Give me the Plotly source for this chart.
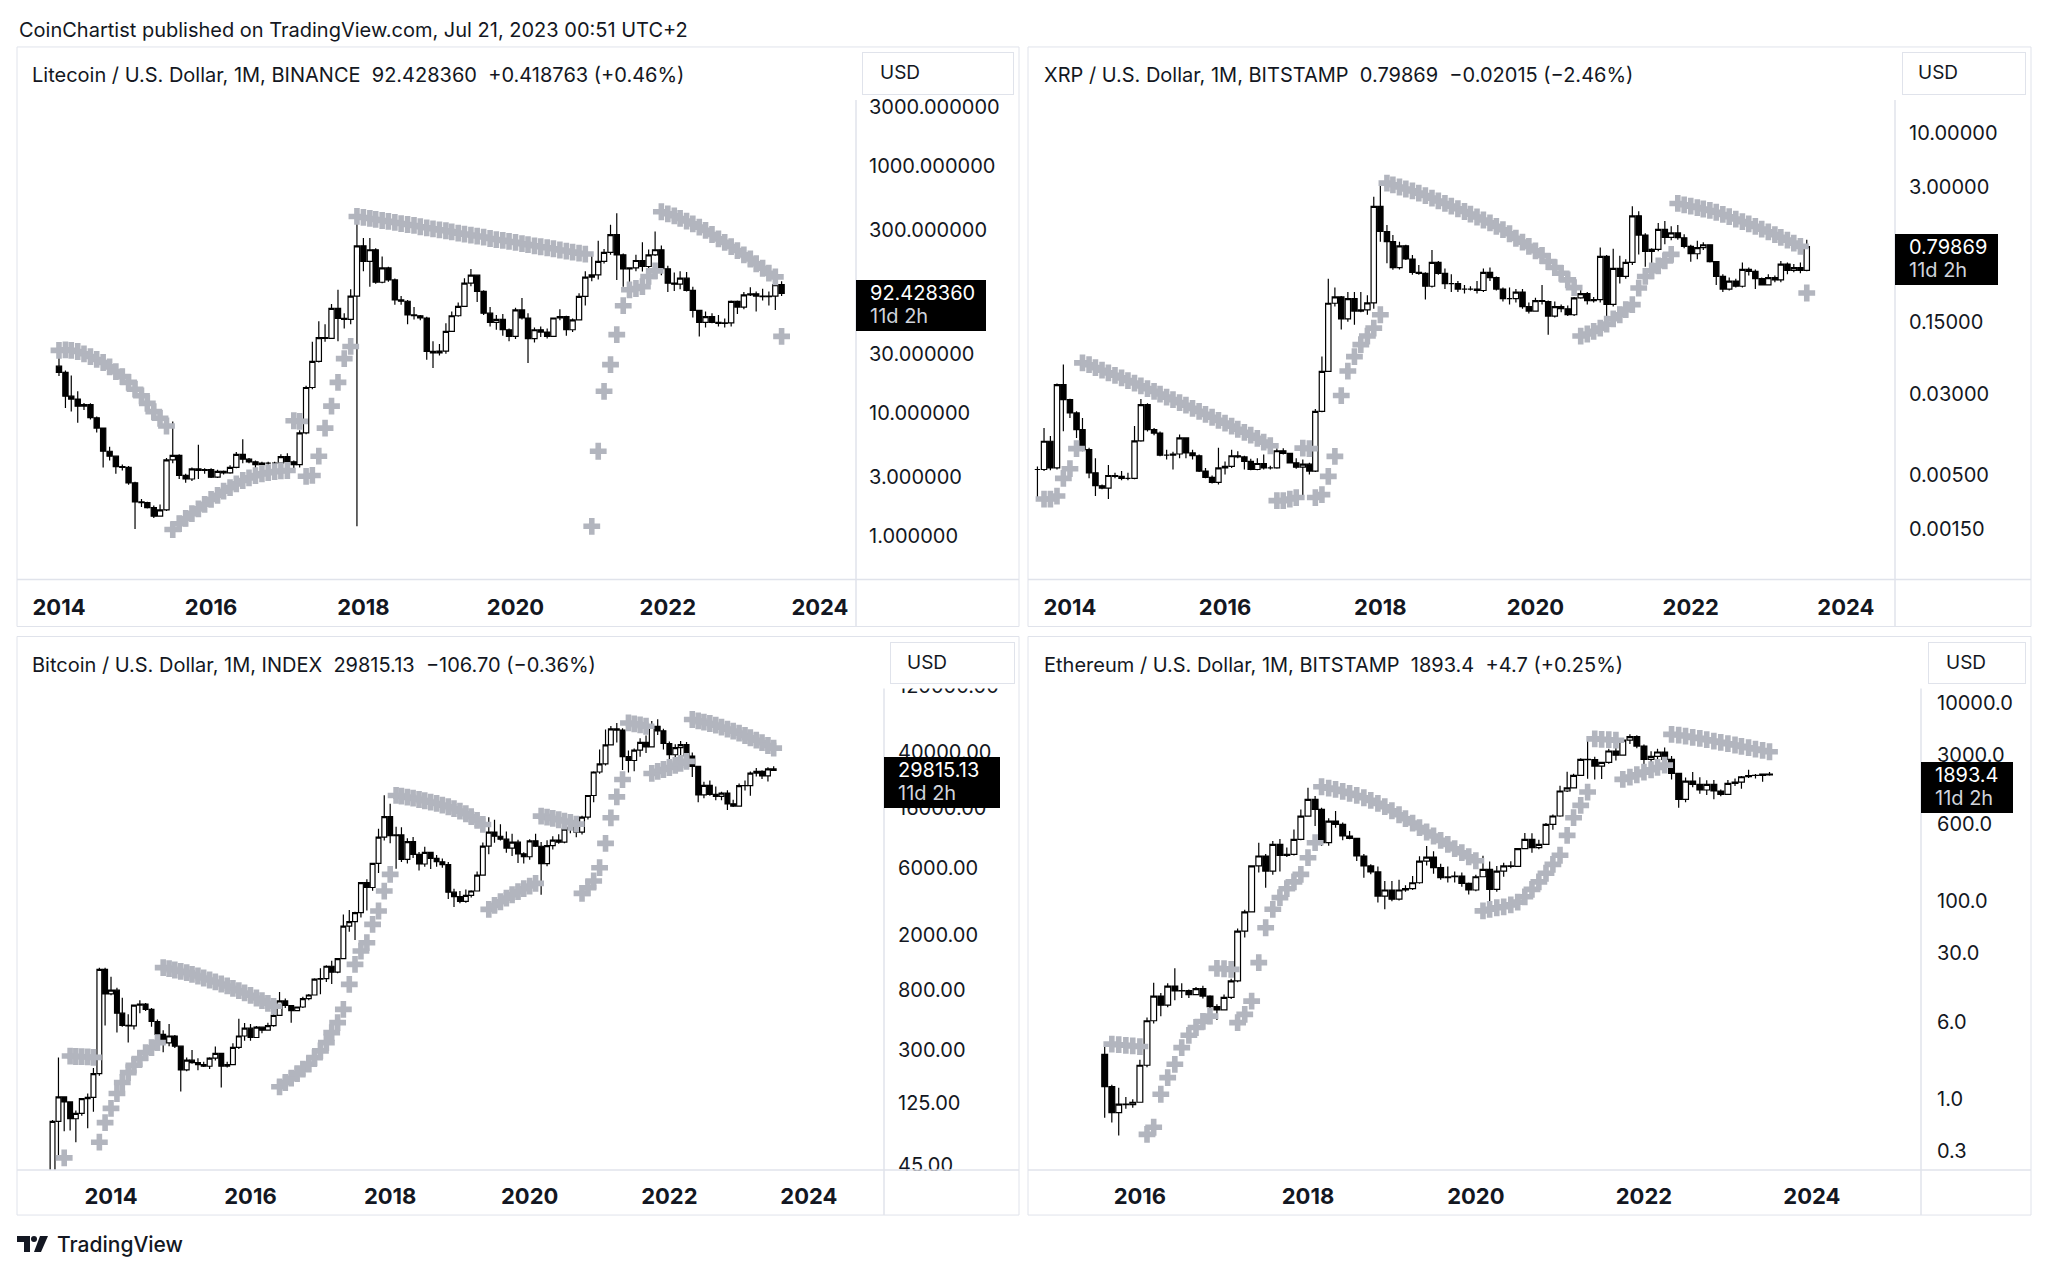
import math
import datetime as dt
import plotly.graph_objects as go

W, H = 2048, 1276
HY = 1270  # vertical scale used to place items (compensates the page photographer)
FONT = "Inter, Roboto, sans-serif"
TXT = "#131722"
GRID = "#e0e3eb"
SAR_COLOR = "#b2b5be"

# ---------------- DATA ----------------
# Litecoin / USD monthly, Jan 2014 .. Jul 2023
ltc_start = (2014, 1)
ltc_open0 = 23.8
ltc_close = [21.2, 13.6, 12.9, 11.3, 11.6, 9.1, 7.5, 4.87, 4.44, 3.65, 3.6, 2.7,
             1.89, 1.87, 1.70, 1.45, 1.63, 4.15, 4.5, 3.1, 2.9, 3.5, 3.4, 3.45,
             3.0, 3.35, 3.25, 3.6, 4.6, 4.2, 4.0, 3.8, 3.9, 3.9, 3.9, 4.4,
             4.0, 3.8, 6.85, 16.0, 26.0, 40.5, 40.0, 70, 58, 57, 88, 225,
             168, 209, 114, 149, 119, 82, 80, 62, 61, 58.5, 31.4, 30.5,
             31.5, 45.6, 61, 72.6, 112, 130, 96, 64, 54, 57, 47, 41.5,
             68, 58.5, 39.8, 47, 45, 41.5, 58.5, 60, 47, 56.6, 87.5, 125.6,
             131, 168, 199, 277, 190, 146, 149, 171, 153, 190, 209, 146.6,
             112, 110, 123, 98, 67.5, 54, 60, 54, 53, 53.5, 79.7, 71.8,
             90, 92, 88, 87, 88, 109, 92.428360]
ltc_high = [32, 22, 20, 14.9, 12.0, 11.9, 9.3, 7.6, 5.3, 4.5, 3.8, 3.7,
            2.75, 2.0, 1.9, 1.77, 1.8, 4.3, 8.5, 4.6, 3.2, 3.6, 5.5, 3.55,
            3.55, 3.45, 3.4, 3.75, 4.8, 6.1, 4.3, 4.1, 4.0, 4.0, 4.0, 4.6,
            4.7, 4.1, 7.2, 16.5, 37.5, 55, 52, 76, 99, 64, 100, 377,
            260, 260, 215, 184, 152, 122, 88, 82, 72, 62, 60, 38,
            36, 53, 66, 78, 123, 146, 132, 98, 72, 62, 63, 48,
            71, 85, 64, 49, 50, 48, 59, 69, 61, 58, 93, 140,
            190, 247, 212, 333, 414, 195, 150, 190, 240, 210, 294, 226,
            155, 137, 140, 138, 105, 68, 66, 64, 62, 58, 81, 81,
            95, 104, 96, 101, 96, 112, 116]
ltc_low = [19.8, 10.9, 10.2, 8.3, 10.5, 8.8, 6.9, 3.6, 4.1, 3.2, 3.4, 2.6,
           1.14, 1.72, 1.67, 1.40, 1.45, 1.6, 3.9, 2.9, 2.7, 2.8, 2.9, 3.2,
           2.95, 2.95, 3.15, 3.2, 3.55, 3.9, 3.9, 3.3, 3.75, 3.75, 3.75, 3.85,
           3.85, 3.25, 3.6, 6.7, 15.5, 25.5, 37.5, 40, 38, 48, 52, 1.2,
           140, 105, 111, 112, 115, 75, 75, 52, 57, 56, 26.8, 23,
           29, 30, 45, 60, 72, 106, 79, 62, 50, 47, 42, 38,
           39.5, 57, 25.3, 37, 41, 40, 41, 56, 42, 45, 56, 74,
           116, 120, 162, 190, 119, 105, 104, 140, 139, 145, 186, 130,
           95, 97, 100, 96, 59, 41.5, 49, 53, 50, 49, 50, 63,
           69, 88, 66, 81, 74, 68, 88]
ltc_sar = [32, 32.3, 32, 31.3, 30, 28.5, 27, 25.5, 23.5, 21.5, 19.6, 17.6,
           15.5, 13.7, 11.9, 10.2, 9.0, 7.8, 1.13, 1.26, 1.39, 1.52, 1.66, 1.81,
           1.98, 2.14, 2.31, 2.47, 2.65, 2.82, 2.96, 3.09, 3.19, 3.27, 3.33, 3.37,
           3.40, 8.6, 8.5, 3.05, 3.1, 4.44, 7.5, 11.3, 17.6, 27.4, 34.4, 389,
           382, 375, 368, 361, 355, 348, 341, 335, 329, 321, 315, 309,
           303, 298, 292, 285, 280, 275, 270, 265, 258, 253, 249, 244,
           240, 234, 230, 225, 221, 217, 213, 208, 204, 200, 196, 193,
           1.2, 4.87, 14.9, 24.5, 42.9, 73.6, 99, 101.5, 105, 127, 141, 425,
           409, 394, 375, 357, 339, 319, 300, 278, 256, 240, 222, 206,
           190, 176, 161, 148, 135, 126, 41.5]

# XRP / USD monthly, Aug 2013 .. Jul 2023
xrp_start = (2013, 8)
xrp_open0 = 0.0056
xrp_close = [0.0056, 0.0105, 0.0058, 0.0369, 0.0265,
             0.0197, 0.0136, 0.0087, 0.0052, 0.0039, 0.0037, 0.0049, 0.0048, 0.0046, 0.0046, 0.0106, 0.0237,
             0.0136, 0.0126, 0.0077, 0.0077, 0.0079, 0.0113, 0.0081, 0.0076, 0.0054, 0.0047, 0.0042, 0.0058,
             0.0060, 0.0076, 0.0074, 0.0067, 0.0056, 0.0064, 0.0058, 0.0058, 0.0085, 0.0080, 0.0065, 0.0059,
             0.0063, 0.0054, 0.0204, 0.0497, 0.226, 0.26, 0.16, 0.25, 0.19, 0.195, 0.228, 1.95,
             1.115, 0.89, 0.50, 0.81, 0.605, 0.45, 0.44, 0.33, 0.56, 0.44, 0.35, 0.35,
             0.31, 0.31, 0.31, 0.30, 0.45, 0.40, 0.31, 0.25, 0.25, 0.29, 0.21, 0.19,
             0.24, 0.235, 0.17, 0.21, 0.20, 0.175, 0.255, 0.28, 0.24, 0.245, 0.64, 0.22,
             0.49, 0.41, 0.56, 1.58, 1.03, 0.715, 0.75, 1.17, 0.98, 1.08, 0.97, 0.80,
             0.68, 0.78, 0.83, 0.57, 0.41, 0.31, 0.37, 0.33, 0.48, 0.46, 0.39, 0.34,
             0.40, 0.38, 0.54, 0.47, 0.50, 0.47, 0.79869]
xrp_high = [0.0060, 0.0141, 0.0118, 0.038, 0.058,
            0.027, 0.0204, 0.0176, 0.0091, 0.0072, 0.0040, 0.0062, 0.0052, 0.0054, 0.0052, 0.0147, 0.0268,
            0.0245, 0.0141, 0.0130, 0.0087, 0.0083, 0.0122, 0.0115, 0.0087, 0.0078, 0.0058, 0.0049, 0.0091,
            0.0067, 0.0087, 0.0084, 0.0076, 0.0071, 0.0072, 0.0078, 0.0061, 0.0090, 0.0090, 0.0081, 0.0072,
            0.0070, 0.0065, 0.0215, 0.069, 0.39, 0.32, 0.265, 0.29, 0.29, 0.29, 0.27, 2.42,
            3.27, 1.29, 1.03, 0.89, 0.83, 0.66, 0.53, 0.45, 0.74, 0.58, 0.49, 0.43,
            0.37, 0.34, 0.33, 0.37, 0.49, 0.50, 0.41, 0.32, 0.32, 0.31, 0.31, 0.23,
            0.255, 0.34, 0.24, 0.235, 0.22, 0.215, 0.26, 0.32, 0.29, 0.26, 0.78, 0.66,
            0.76, 0.65, 0.60, 1.96, 1.75, 1.07, 0.77, 1.35, 1.41, 1.25, 1.29, 1.05,
            0.83, 0.91, 0.88, 0.83, 0.58, 0.43, 0.40, 0.39, 0.56, 0.50, 0.48, 0.40,
            0.43, 0.42, 0.58, 0.56, 0.54, 0.56, 0.93]
xrp_low = [0.0030, 0.0054, 0.0055, 0.0056, 0.0131,
           0.0176, 0.0113, 0.0084, 0.0046, 0.0031, 0.0036, 0.0029, 0.0046, 0.0044, 0.0044, 0.0045, 0.0104,
           0.0130, 0.0120, 0.0075, 0.0070, 0.0056, 0.0072, 0.0072, 0.0070, 0.0053, 0.0046, 0.0041, 0.0040,
           0.0050, 0.0058, 0.0072, 0.0056, 0.0055, 0.0055, 0.0056, 0.0056, 0.0057, 0.0078, 0.0064, 0.0057,
           0.0030, 0.0050, 0.0053, 0.0200, 0.049, 0.21, 0.126, 0.15, 0.14, 0.185, 0.175, 0.20,
           0.89, 0.55, 0.475, 0.48, 0.59, 0.426, 0.426, 0.245, 0.32, 0.426, 0.31, 0.29,
           0.29, 0.28, 0.30, 0.28, 0.29, 0.37, 0.30, 0.235, 0.22, 0.23, 0.20, 0.18,
           0.19, 0.22, 0.112, 0.165, 0.185, 0.17, 0.17, 0.25, 0.22, 0.23, 0.23, 0.17,
           0.21, 0.35, 0.39, 0.53, 0.67, 0.51, 0.51, 0.72, 0.84, 0.92, 0.93, 0.77,
           0.57, 0.60, 0.74, 0.56, 0.34, 0.29, 0.30, 0.32, 0.32, 0.42, 0.31, 0.34,
           0.34, 0.36, 0.36, 0.43, 0.45, 0.44, 0.46]
xrp_sar = [None, 0.0029, 0.0029, 0.0031, 0.0046,
           0.0057, 0.0089, 0.060, 0.0576, 0.054, 0.051, 0.048, 0.0455, 0.043, 0.0405, 0.0383, 0.036,
           0.0338, 0.0318, 0.030, 0.028, 0.0265, 0.0248, 0.0234, 0.0218, 0.0204, 0.0191, 0.0179, 0.0167,
           0.0157, 0.0147, 0.0137, 0.0128, 0.0120, 0.0112, 0.0103, 0.0095, 0.0028, 0.0028, 0.0029, 0.0030,
           0.0090, 0.0089, 0.0030, 0.0032, 0.0048, 0.0075, 0.029, 0.050, 0.069, 0.090, 0.109, 0.130,
           0.175, 3.27, 3.15, 3.0, 2.87, 2.75, 2.62, 2.48, 2.34, 2.2, 2.08, 1.96,
           1.85, 1.74, 1.64, 1.54, 1.44, 1.35, 1.25, 1.16, 1.06, 0.96, 0.88, 0.80,
           0.726, 0.654, 0.572, 0.50, 0.44, 0.38, 0.32, 0.109, 0.114, 0.121, 0.130, 0.142,
           0.160, 0.175, 0.196, 0.219, 0.317, 0.41, 0.465, 0.52, 0.58, 0.67, 2.08, 2.02,
           1.96, 1.9, 1.84, 1.78, 1.71, 1.63, 1.55, 1.47, 1.39, 1.32, 1.25, 1.175,
           1.105, 1.04, 0.98, 0.92, 0.86, 0.80, 0.284]

# Bitcoin / USD (INDEX) monthly, Jan 2013 .. Jul 2023
btc_start = (2013, 1)
btc_open0 = 13.3
btc_close = [20.4, 33.4, 93, 139, 128, 97, 106, 135, 138, 204, 1130, 755,
             803, 550, 450, 446, 628, 640, 586, 480, 388, 338, 378, 320,
             217, 254, 244, 236, 230, 263, 284, 230, 236, 314, 378, 430,
             369, 437, 416, 448, 531, 673, 624, 574, 609, 700, 742, 963,
             970, 1190, 1080, 1350, 2300, 2480, 2875, 4700, 4340, 6450, 9950, 13900,
             10200, 10300, 6900, 9240, 7490, 6390, 7730, 7010, 6630, 6320, 4020, 3740,
             3460, 3820, 4100, 5320, 8560, 10800, 10080, 9600, 8300, 9150, 7550, 7200,
             9350, 8550, 6420, 8630, 9450, 9140, 11350, 11650, 10780, 13800, 19700, 28990,
             33100, 45200, 58800, 57700, 37300, 35000, 41500, 47100, 43800, 61300, 57000, 46300,
             38500, 43200, 45500, 37700, 31800, 19900, 23300, 20050, 19400, 20500, 17170, 16550,
             23130, 23150, 28480, 29250, 27200, 30470, 29815.13]
btc_high = [21, 34, 95, 266, 140, 129, 111, 136, 147, 223, 1163, 1160,
            1000, 835, 710, 540, 630, 680, 650, 600, 495, 415, 460, 385,
            320, 265, 300, 262, 248, 267, 318, 284, 248, 336, 503, 468,
            460, 445, 440, 470, 550, 780, 700, 625, 615, 720, 755, 975,
            1150, 1210, 1300, 1360, 2790, 3000, 2920, 4750, 4980, 6480, 11400, 19800,
            17200, 11800, 11700, 9750, 9950, 7770, 8500, 7770, 7400, 7000, 6590, 4260,
            4100, 4200, 4150, 5640, 9100, 13800, 13200, 12300, 10900, 10500, 9500, 7750,
            9580, 10500, 9180, 9450, 10070, 10400, 11450, 12480, 12090, 14100, 19900, 29300,
            41950, 58350, 61800, 64900, 59600, 41300, 42600, 50500, 52900, 67000, 69000, 59100,
            47900, 45800, 48200, 47500, 40000, 31900, 24700, 25200, 22800, 20990, 21450, 18400,
            23950, 25250, 29200, 31000, 29800, 31400, 31800]
btc_low = [13.2, 19.1, 33, 50, 79, 80, 66, 102, 83, 109, 197, 450,
           740, 400, 440, 340, 420, 550, 570, 440, 370, 289, 320, 310,
           152, 212, 240, 215, 227, 220, 253, 162, 225, 236, 305, 350,
           350, 366, 395, 413, 440, 530, 600, 470, 570, 600, 680, 740,
           750, 920, 890, 1060, 1340, 2100, 1830, 2650, 2970, 4120, 5500, 9400,
           9000, 5900, 6600, 6450, 7050, 5750, 6100, 5880, 6100, 6000, 3600, 3150,
           3350, 3380, 3680, 4070, 5320, 7500, 9050, 9400, 7700, 7300, 6500, 6430,
           6850, 8450, 3850, 6150, 8100, 8900, 8990, 10600, 9900, 10370, 13300, 17600,
           28130, 32300, 45000, 47000, 30000, 28800, 29300, 37300, 39600, 43300, 53300, 42000,
           32900, 34300, 37200, 37600, 26700, 17600, 18800, 19600, 18200, 18200, 15500, 16300,
           16500, 21400, 19600, 26950, 25800, 24800, 29500]
btc_sar = [None, None, 20, 33, 51, 272, 270, 269, 268, 266, 66, 91,
           115, 147, 176, 207, 234, 261, 288, 312, 339, 1163, 1144, 1119,
           1094, 1071, 1042, 1014, 981, 949, 919, 889, 861, 828, 797, 767,
           738, 706, 676, 647, 616, 164, 176, 189, 204, 219, 238, 265,
           296, 339, 400, 471, 586, 883, 1227, 1528, 1753, 2370, 2951, 4096,
           5385, 19720, 19500, 19190, 18880, 18450, 18070, 17660, 17280, 16820, 16370, 15850,
           15240, 14590, 13900, 13070, 12240, 3030, 3236, 3436, 3648, 3855, 4053, 4256,
           4446, 4645, 14030, 13800, 13510, 13220, 12940, 12650, 12310, 3945, 4325, 4830,
           6010, 8960, 13650, 19270, 25600, 64900, 63900, 62900, 61500, 28300, 29300, 30200,
           31200, 32300, 33400, 34500, 68700, 67200, 65700, 64300, 62600, 60600, 58600, 56700,
           54900, 52800, 50900, 48900, 46900, 44800, 42900]

# Ethereum / USD monthly, Aug 2015 .. Jul 2023
eth_start = (2015, 8)
eth_open0 = 2.84
eth_close = [1.34, 0.73, 0.89, 0.88, 0.93,
             2.2, 6.2, 11.0, 8.9, 13.9, 12.4, 12.5, 11.4, 13.1, 11.0, 8.6, 8.0,
             10.7, 15.7, 50, 78, 228, 287, 202, 376, 291, 298, 423, 727,
             1071, 849, 391, 647, 599, 457, 433, 287, 228, 198, 113, 130,
             105, 130, 134, 154, 255, 280, 219, 173, 177, 180, 152, 130,
             177, 210, 132, 202, 228, 225, 340, 423, 349, 377, 600, 728,
             1303, 1400, 1875, 2720, 2709, 2330, 2536, 3306, 3000, 4265, 4630, 3707,
             2720, 2920, 3230, 2720, 1963, 1072, 1643, 1521, 1334, 1521, 1303, 1205,
             1556, 1600, 1816, 1870, 1874, 1934, 1893.4]
eth_high = [3.6, 1.4, 1.3, 1.05, 1.0,
            2.5, 6.7, 15, 11.8, 14.8, 21, 14.8, 12.8, 13.6, 14.0, 11.2, 9.1,
            11.4, 16.5, 53, 82, 232, 391, 300, 406, 426, 350, 533, 849,
            1406, 1160, 880, 690, 817, 625, 515, 440, 300, 237, 225, 160,
            160, 165, 145, 180, 285, 362, 320, 240, 225, 200, 195, 155,
            185, 288, 253, 227, 245, 254, 345, 490, 488, 420, 620, 755,
            1470, 2040, 1945, 2800, 4380, 2890, 2550, 3475, 4030, 4460, 4870, 4780,
            3850, 3290, 3480, 3580, 2950, 1970, 1780, 2030, 1790, 1670, 1680, 1350,
            1680, 1740, 1850, 2140, 1930, 1960, 2030]
eth_low = [0.65, 0.58, 0.43, 0.8, 0.82,
           0.93, 2.1, 5.8, 6.9, 8.5, 10, 10.5, 10.5, 11.2, 10.4, 8.3, 6.3,
           7.9, 10.3, 15.2, 43, 77, 195, 137, 185, 200, 280, 290, 415,
           725, 577, 362, 365, 555, 415, 425, 255, 173, 188, 97, 83,
           100, 102, 125, 130, 150, 230, 190, 165, 155, 155, 140, 117,
           126, 176, 90, 125, 177, 216, 222, 335, 310, 335, 375, 530,
           715, 1270, 1390, 1860, 1730, 1700, 1720, 2450, 2650, 2970, 3900, 3530,
           2160, 2300, 2450, 2700, 1700, 880, 1000, 1420, 1220, 1190, 1075, 1150,
           1190, 1460, 1370, 1760, 1740, 1620, 1860]
eth_sar = [None, 3.6, 3.55, 3.5, 3.45,
           3.4, 0.44, 0.52, 1.12, 1.65, 2.25, 3.32, 4.42, 5.3, 6.1, 6.9, 21.0,
           20.8, 20.5, 5.94, 7.2, 9.8, 24, 54, 83, 109, 134, 157, 187,
           276, 391, 1438, 1394, 1352, 1291, 1233, 1175, 1114, 1047, 977, 904,
           823, 750, 684, 618, 555, 502, 457, 413, 376, 340, 310, 282,
           257, 80, 83, 86, 88, 92, 98, 111, 132, 157, 192, 236,
           292, 464, 700, 933, 1271, 4380, 4340, 4300, 4250, 1706, 1802, 1902,
           2023, 2136, 2255, 2380, 4870, 4790, 4680, 4540, 4440, 4300, 4170, 4040,
           3920, 3800, 3680, 3570, 3460, 3350, 3250]

# price-scale tick labels (labels fully hidden behind the last-price tag are omitted)
ltc_ticks = [1, 3, 10, 30, 300, 1000, 3000]
ltc_ticktext = ["1.000000", "3.000000", "10.000000", "30.000000",
                "300.000000", "1000.000000", "3000.000000"]
xrp_ticks = [0.0015, 0.005, 0.03, 0.15, 3, 10]
xrp_ticktext = ["0.00150", "0.00500", "0.03000", "0.15000", "3.00000", "10.00000"]
btc_ticks = [45, 125, 300, 800, 2000, 6000, 16000, 40000, 120000]
btc_ticktext = ["45.00", "125.00", "300.00", "800.00", "2000.00", "6000.00",
                "16000.00", "40000.00", "120000.00"]
eth_ticks = [0.3, 1, 6, 30, 100, 600, 3000, 10000]
eth_ticktext = ["0.3", "1.0", "6.0", "30.0", "100.0", "600.0", "3000.0", "10000.0"]
year_ticks_a = ["2014", "2016", "2018", "2020", "2022", "2024"]
year_ticks_b = ["2016", "2018", "2020", "2022", "2024"]

titles = [
    "Litecoin / U.S. Dollar, 1M, BINANCE\u00a0\u00a092.428360\u00a0\u00a0+0.418763 (+0.46%)",
    "XRP / U.S. Dollar, 1M, BITSTAMP\u00a0\u00a00.79869\u00a0\u00a0\u22120.02015 (\u22122.46%)",
    "Bitcoin / U.S. Dollar, 1M, INDEX\u00a0\u00a029815.13\u00a0\u00a0\u2212106.70 (\u22120.36%)",
    "Ethereum / U.S. Dollar, 1M, BITSTAMP\u00a0\u00a01893.4\u00a0\u00a0+4.7 (+0.25%)",
]
price_texts = ["92.428360", "0.79869", "29815.13", "1893.4"]
countdown = "11d 2h"
header = "CoinChartist published on TradingView.com, Jul 21, 2023 00:51 UTC+2"


# ---------------- helpers ----------------
def month_dates(start, n):
    y, m = start
    out = []
    for _ in range(n):
        out.append(f"{y:04d}-{m:02d}-01")
        m += 1
        if m == 13:
            m = 1
            y += 1
    return out


def opens(first, closes):
    return [first] + closes[:-1]


def yfrac(f):
    y = int(math.floor(f))
    a = dt.datetime(y, 1, 1)
    b = dt.datetime(y + 1, 1, 1)
    return (a + (b - a) * (f - y)).strftime("%Y-%m-%d %H:%M")


def px(x):
    return x / W


def py(y):
    return 1 - y / HY


panels = [
    dict(start=ltc_start, o0=ltc_open0, c=ltc_close, h=ltc_high, l=ltc_low, sar=ltc_sar,
         plot=(17, 47, 856, 580), frame=(17, 47, 1019, 627), vline_top=100,
         xr=(2013.448, 2024.473), yr=(-0.3522, 3.9636),
         ticks=ltc_ticks, ticktext=ltc_ticktext, years=year_ticks_a,
         title_xy=(30, 75), usd=(862, 52, 1012, 93), usd_tx=878,
         pbox_w=130, standoff=12, xstand=12),
    dict(start=xrp_start, o0=xrp_open0, c=xrp_close, h=xrp_high, l=xrp_low, sar=xrp_sar,
         plot=(1029, 47, 1895, 580), frame=(1028, 47, 2031, 627), vline_top=100,
         xr=(2013.472, 2024.632), yr=(-3.315, 1.830),
         ticks=xrp_ticks, ticktext=xrp_ticktext, years=year_ticks_a,
         title_xy=(1042, 75), usd=(1902, 52, 2024, 93), usd_tx=1916,
         pbox_w=103, standoff=13, xstand=12),
    dict(start=btc_start, o0=btc_open0, c=btc_close, h=btc_high, l=btc_low, sar=btc_sar,
         plot=(17, 637, 884, 1171), frame=(17, 637, 1019, 1216), vline_top=689,
         xr=(2012.653, 2025.075), yr=(1.6205, 5.4294),
         ticks=btc_ticks, ticktext=btc_ticktext, years=year_ticks_a,
         title_xy=(30, 666), usd=(890, 643, 1013, 683), usd_tx=905,
         pbox_w=116, standoff=13, xstand=11),
    dict(start=eth_start, o0=eth_open0, c=eth_close, h=eth_high, l=eth_low, sar=eth_sar,
         plot=(1029, 637, 1921, 1171), frame=(1028, 637, 2031, 1216), vline_top=689,
         xr=(2014.679, 2025.298), yr=(-0.7172, 4.6768),
         ticks=eth_ticks, ticktext=eth_ticktext, years=year_ticks_b,
         title_xy=(1042, 666), usd=(1928, 643, 2024, 683), usd_tx=1944,
         pbox_w=92, standoff=15, xstand=11),
]

fig = go.Figure()
layout = dict(width=W, height=H, margin=dict(l=0, r=0, t=0, b=0, pad=0),
              paper_bgcolor="white", plot_bgcolor="white", showlegend=False,
              hovermode=False, boxgap=0.1, boxgroupgap=0.0,
              font=dict(family=FONT, color=TXT))
shapes = []
annotations = []

for i, p in enumerate(panels, start=1):
    xs = "x" if i == 1 else f"x{i}"
    ys = "y" if i == 1 else f"y{i}"
    xa = "xaxis" if i == 1 else f"xaxis{i}"
    ya = "yaxis" if i == 1 else f"yaxis{i}"
    n = len(p["c"])
    dates = month_dates(p["start"], n)
    fig.add_trace(go.Candlestick(
        x=dates, open=opens(p["o0"], p["c"]), high=p["h"], low=p["l"], close=p["c"],
        xaxis=xs, yaxis=ys, whiskerwidth=0,
        increasing=dict(line=dict(color="#000000", width=1.2), fillcolor="#ffffff"),
        decreasing=dict(line=dict(color="#000000", width=1.2), fillcolor="#000000"),
    ))
    fig.add_trace(go.Scatter(
        x=dates, y=p["sar"], mode="markers", xaxis=xs, yaxis=ys,
        marker=dict(symbol="cross", size=14, color=SAR_COLOR, line=dict(width=0)),
    ))
    x0, y0, x1, y1 = p["plot"]
    layout[xa] = dict(
        domain=[px(x0), px(x1)], anchor=ys, type="date",
        range=[yfrac(p["xr"][0]), yfrac(p["xr"][1])],
        tickvals=[f"{yy}-01-01" for yy in p["years"]], ticktext=p["years"],
        ticks="", showgrid=False, zeroline=False, showline=False,
        ticklabelstandoff=p["xstand"],
        tickfont=dict(family=FONT, size=22, color=TXT, weight="bold"),
        rangeslider=dict(visible=False), fixedrange=True,
    )
    layout[ya] = dict(
        domain=[py(y1), py(y0)], anchor=xs, type="log", side="right",
        range=list(p["yr"]), tickvals=p["ticks"], ticktext=p["ticktext"],
        ticks="", showgrid=False, zeroline=False, showline=False,
        ticklabelstandoff=p["standoff"],
        tickfont=dict(family=FONT, size=20, color=TXT), fixedrange=True,
    )
    fx0, fy0, fx1, fy1 = p["frame"]
    if i == 3:
        # the price scale clips its labels to the pane
        shapes.append(dict(type="rect", xref="paper", yref="paper", layer="above",
                           x0=px(x1 + 1), x1=px(fx1 - 1), y0=py(fy0 + 1), y1=py(p["vline_top"]),
                           fillcolor="white", line=dict(width=0)))
        shapes.append(dict(type="rect", xref="paper", yref="paper", layer="above",
                           x0=px(x1 + 1), x1=px(fx1 - 1), y0=py(y1 + 1), y1=py(fy1 - 1),
                           fillcolor="white", line=dict(width=0)))
    # frame
    shapes.append(dict(type="rect", xref="paper", yref="paper", layer="above",
                       x0=px(fx0), x1=px(fx1), y0=py(fy1), y1=py(fy0),
                       line=dict(color=GRID, width=1), fillcolor="rgba(0,0,0,0)"))
    # time-axis separator and price-axis separator
    shapes.append(dict(type="line", xref="paper", yref="paper", layer="above",
                       x0=px(fx0), x1=px(fx1), y0=py(y1), y1=py(y1),
                       line=dict(color=GRID, width=1.5)))
    shapes.append(dict(type="line", xref="paper", yref="paper", layer="above",
                       x0=px(x1), x1=px(x1), y0=py(p["vline_top"]), y1=py(fy1),
                       line=dict(color=GRID, width=1.5)))
    # title
    tx, ty = p["title_xy"]
    annotations.append(dict(xref="paper", yref="paper", x=px(tx), y=py(ty),
                            xanchor="left", yanchor="middle", showarrow=False,
                            text=titles[i - 1], font=dict(family=FONT, size=20, color=TXT)))
    # USD button
    ux0, uy0, ux1, uy1 = p["usd"]
    annotations.append(dict(xref="paper", yref="paper", x=px(ux0), y=py(uy0),
                            xanchor="left", yanchor="top", showarrow=False, text="\u00a0",
                            width=ux1 - ux0, height=uy1 - uy0, bgcolor="white",
                            bordercolor=GRID, borderwidth=1, borderpad=0))
    annotations.append(dict(xref="paper", yref="paper", x=px(p["usd_tx"]), y=py((uy0 + uy1) / 2),
                            xanchor="left", yanchor="middle", showarrow=False, text="USD",
                            font=dict(family=FONT, size=19, color=TXT)))
    # last-price label
    last = math.log10(p["c"][-1])
    annotations.append(dict(xref="paper", yref=ys, x=px(x1), y=last,
                            xanchor="left", yanchor="top", yshift=13, showarrow=False,
                            text="\u00a0", width=p["pbox_w"], height=51,
                            bgcolor="#000000", borderpad=0, borderwidth=0))
    annotations.append(dict(xref="paper", yref=ys, x=px(x1), y=last, xshift=12,
                            xanchor="left", yanchor="middle", showarrow=False,
                            text=price_texts[i - 1], font=dict(family=FONT, size=20, color="#ffffff")))
    annotations.append(dict(xref="paper", yref=ys, x=px(x1), y=last, xshift=12, yshift=-23,
                            xanchor="left", yanchor="middle", showarrow=False,
                            text=countdown, font=dict(family=FONT, size=20, color="#d1d4dc")))

# header and footer
annotations.append(dict(xref="paper", yref="paper", x=px(17), y=py(30), xanchor="left",
                        yanchor="middle", showarrow=False, text=header,
                        font=dict(family=FONT, size=20, color=TXT)))
annotations.append(dict(xref="paper", yref="paper", x=px(55), y=py(1245), xanchor="left",
                        yanchor="middle", showarrow=False, text="TradingView",
                        font=dict(family=FONT, size=21, color=TXT, weight=500)))


def ppath(pts):
    return "M" + " L".join(f"{px(a):.6f},{py(b):.6f}" for a, b in pts) + " Z"


shapes.append(dict(type="path", xref="paper", yref="paper", layer="above",
                   path=ppath([(17, 1237), (30, 1237), (30, 1253), (24, 1253), (24, 1243), (17, 1243)]),
                   fillcolor=TXT, line=dict(width=0)))
shapes.append(dict(type="circle", xref="paper", yref="paper", layer="above",
                   x0=px(31), x1=px(37), y0=py(1243), y1=py(1237),
                   fillcolor=TXT, line=dict(width=0)))
shapes.append(dict(type="path", xref="paper", yref="paper", layer="above",
                   path=ppath([(40, 1237), (48, 1237), (41, 1253), (34, 1253)]),
                   fillcolor=TXT, line=dict(width=0)))

layout["shapes"] = shapes
layout["annotations"] = annotations
fig.update_layout(**layout)
fig.write_html(
    "out.html", config=dict(displayModeBar=False, staticPlot=True),
    post_script=(
        "var s=document.createElement('style');"
        "s.textContent='html,body{margin:0!important;padding:0!important;overflow:hidden!important;}"
        " .plotly-graph-div{display:block;}';"
        "document.head.appendChild(s);"
    ),
)
